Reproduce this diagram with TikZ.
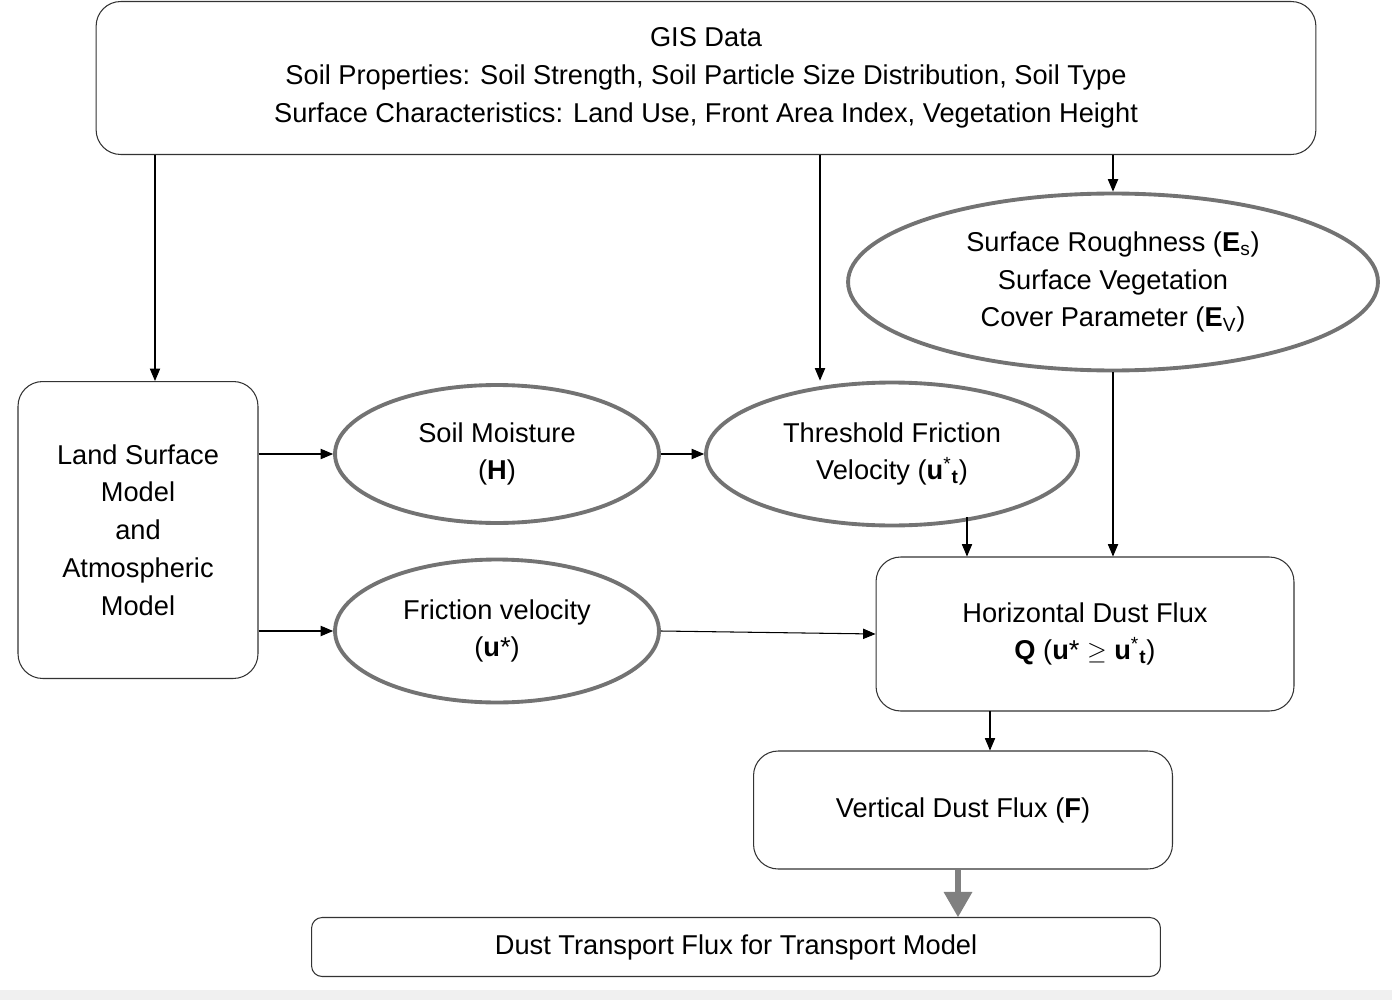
\documentclass[tikz,border=0pt]{standalone}
\usepackage{fontspec}
\setmainfont{Liberation Sans}
\usetikzlibrary{arrows,positioning,shapes.geometric}

\begin{document}
\begin{tikzpicture}[>=triangle 45,x=0.02cm,y=-0.02cm,
  font=\fontsize{15.5}{21.5}\selectfont,
  box/.style={draw=black!80,rounded corners=14pt,align=center,inner sep=0pt,line width=0.6pt},
  oval/.style={draw=black!55,ellipse,line width=2.2pt,align=center,inner sep=0pt},
  flow/.style={->,line width=0.6pt}]
\useasboundingbox (0,0) rectangle (1392,1000);
\fill[black!6] (0,990) rectangle (1392,1000);
  \node[box,minimum width=24.4cm,minimum height=3.06cm]  (GIS) at (706,78)
    {GIS Data\\Soil Properties: Soil Strength, Soil Particle Size Distribution, Soil Type\\Surface Characteristics: Land Use, Front Area Index, Vegetation Height};
  \node[oval,minimum width=10.6cm,minimum height=3.54cm] (SR)  at (1113,282)
    {Surface Roughness (\textbf{E}\textsubscript{s})\\Surface Vegetation\\Cover Parameter (\textbf{E}\textsubscript{V})};
  \node[box,minimum width=4.8cm,minimum height=5.94cm]   (LSM) at (138,530)
    {Land Surface\\Model\\and\\Atmospheric\\Model};
  \node[oval,minimum width=6.48cm,minimum height=2.76cm] (SM)  at (497,454)
    {Soil Moisture\\(\textbf{H})};
  \node[oval,minimum width=7.44cm,minimum height=2.86cm] (TF)  at (892,454)
    {Threshold Friction\\Velocity (\textbf{u}\textsuperscript{*}\textsubscript{\textbf{t}})};
  \node[oval,minimum width=6.48cm,minimum height=2.86cm] (FV)  at (497,631)
    {Friction velocity\\(\textbf{u}*)};
  \node[box,minimum width=8.36cm,minimum height=3.08cm]  (HDF) at (1085,634)
    {Horizontal Dust Flux\\\textbf{Q} (\textbf{u}* $\geq$ \textbf{u}\textsuperscript{*}\textsubscript{\textbf{t}})};
  \node[box,minimum width=8.38cm,minimum height=2.36cm]  (VDF) at (963,810)
    {Vertical Dust Flux (\textbf{F})};
  \node[box,rounded corners=6pt,minimum width=16.98cm,minimum height=1.18cm] (DTF) at (736,947)
    {Dust Transport Flux for Transport Model};
  % connectors
  \draw[flow] (GIS.south -| LSM.north) ++(17,0) coordinate (a) -- (a |- LSM.north);
  \draw[flow] (820,155) coordinate (b) -- (b |- TF.north);
  \draw[flow] (1113,155) coordinate (c) -- (SR.north);
  \draw[flow] (LSM.east |- SM) -- (SM.west);
  \draw[flow] (LSM.east |- FV) -- (FV.west);
  \draw[flow] (SM.east) -- (TF.west);
  \draw[flow] (967,517) coordinate (d) -- (d |- HDF.north);
  \draw[flow] (SR.south) -- (SR.south |- HDF.north);
  \draw[flow] (FV.east) -- (HDF.west);
  \draw[flow] (990,711) coordinate (e) -- (e |- VDF.north);
  \draw[->,black!50,line width=3pt,>=triangle 60] (VDF.south -| 958,0) coordinate (f) -- (f |- DTF.north);
\end{tikzpicture}
\end{document}
